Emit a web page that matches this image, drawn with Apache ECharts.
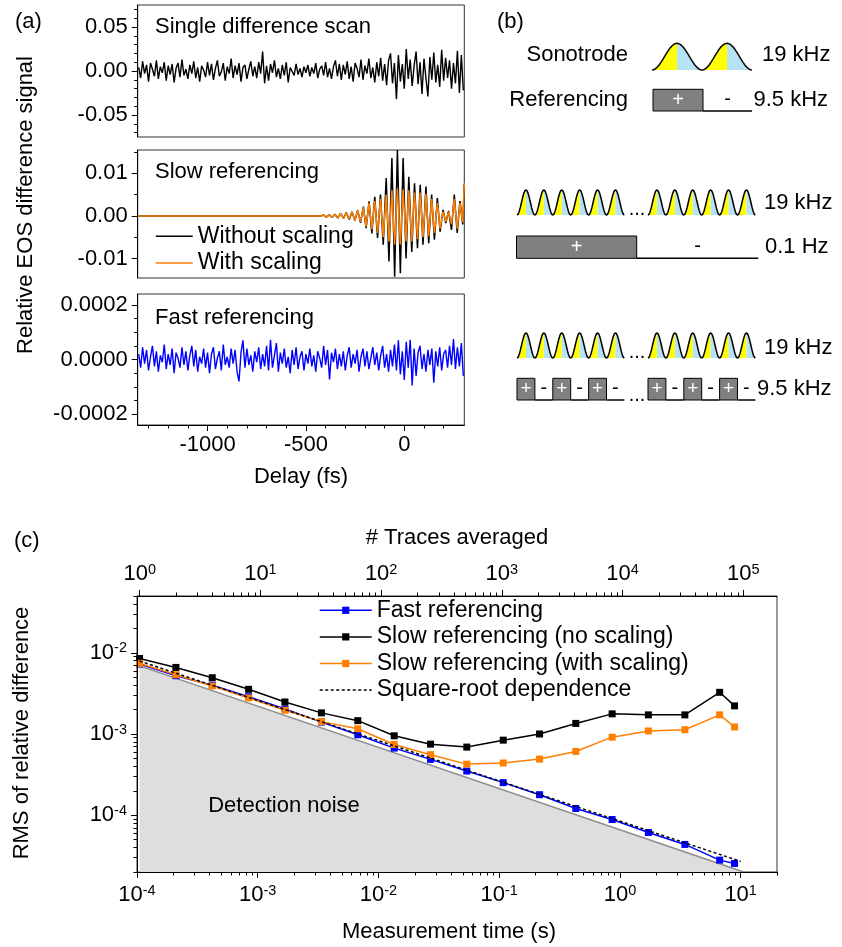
<!DOCTYPE html>
<html>
<head>
<meta charset="utf-8">
<title>EOS referencing and averaging noise</title>
<script src="https://cdn.jsdelivr.net/npm/echarts@6.0.0/dist/echarts.min.js"></script>
<style>
  html, body { margin: 0; padding: 0; background: #fff; }
  #chart { width: 842px; height: 947px; }
</style>
</head>
<body>
<div id="chart"></div>
<script>
const FONT = '"Liberation Sans", Arial, Helvetica, sans-serif';

// ---------- (a) EOS difference traces ----------
// single scan and fast referencing traces are sampled every 10 fs starting at -1350 fs
const traceDelayStart = -1350;
const traceDelayStep = 10;

// single difference scan, units of 1e-3
const singleScanMilli = [
  4, -8, 11, -3, 7, -12, 9, 2, -6, 12, -9, 5, -2, 10, -11, 6, -4, 8, -13, 3, 9, -7, 13, -5, 2, -9,
  7, -3, 11, -8, 4, -12, 6, 1, -7, 10, -5, 8, -10, 3, 12, -6, -1, 9, -11, 5, -3, 14, -8, 6, -4, 9,
  -12, 4, 7, -9, 2, 11, -6, 5, -8, 10, -3, 22, -14, 6, -11, 8, -2, 12, -7, 3, -9, 7, -5, 10, -13, 4,
  6, -5, 8, -4, 3, -7, 5, -2, 7, -6, 4, -3, 9, -8, 2, 6, -5, 10, -7, 3, -9, 5, 12, -6, 8, -10,
  7, -4, 11, -9, 5, -12, 9, 3, -7, 13, -10, 6, -3, 14, -8, 4, -13, 10, -6, 15, -11, 8, -16, 12, 20, -14,
  9, -32, 18, -12, 8, -20, 25, -9, 13, -17, 6, 22, -15, 10, -26, 14, -8, -29, 16, -10, 21, -13, 7, -18, 24, -11,
  15, -8, 12, -20, 9, -14, 23, -25, 18, -22
];

// fast referencing, units of 1e-6
const fastTraceMicro = [
  20, -30, 45, -15, 35, -40, 10, 50, -25, 30, -45, 15, -10, 55, -35, 20, -20, 40, -50, 25, 5, -30, 45, -20, 30, -40,
  15, 50, -25, 35, -45, 10, -15, 40, -30, 25, -50, 20, 45, -35, 5, 30, -40, 55, -20, 10, -30, 40, -15, 35, -45, -80,
  25, 70, -30, 40, -20, 15, -45, 30, -10, 45, -35, 20, -25, 50, -40, 72, -30, 15, 60, -45, 25, -15, 40, -30, 10, -50,
  35, -20, 45, -35, 10, 30, -40, 20, -15, 40, -25, 15, -45, 30, 5, -30, 50, -20, 35, -73, 25, -10, 40, -35, 20, -25,
  30, -40, 15, 45, -30, 20, -15, 35, -45, 10, 40, -25, 30, -35, 5, 45, -20, 25, -40, 15, 50, -30, 20, -45, 35, -25,
  55, -40, 70, -55, 30, -75, 65, -30, 72, -95, 40, -60, 25, 50, -35, 20, -45, 35, -20, 40, -85, 30, -25, 45, -40, 20,
  35, -30, 50, -20, 75, -35, 45, -25, 60, -60
];

// slow referencing: delays (fs) of the field extrema, values in units of 1e-3
const slowDelays = [
  -1355, -425,
  -410, -396, -381, -367, -353, -338, -324, -309, -295, -280, -266, -251, -237, -222,
  -208, -194, -179, -165, -150, -136, -121, -107, -92, -78, -63, -49, -35, -20, -6,
  9, 23, 38, 52, 67, 81, 95, 110, 124, 139, 153, 168, 182, 197, 211, 225, 240, 254, 269, 283, 297,
  305
];
const slowRawMilli = [
  0, 0,
  0.2, -0.3, 0.3, -0.4, 0.4, -0.5, 0.6, -0.6, 0.8, -0.9, 1.0, -1.1, 1.3, -1.6,
  2.2, -2.9, 3.4, -4.1, 4.5, -5.2, 5.0, -6.8, 8.9, -10.7, 13.6, -14.3, 15.5, -13.5, 13.6,
  -10.0, 9.2, -8.5, 7.7, -7.6, 7.3, -6.8, 6.9, -6.4, 5.0, -5.6, 4.2, -3.7, 1.4, -1.7, 1.2, -3.3, 5.0, -4.0, 3.5, -2.0,
  7.5
];
const slowScaledMilli = [
  0, 0,
  0.2, -0.3, 0.3, -0.4, 0.4, -0.5, 0.6, -0.6, 0.7, -0.8, 0.9, -1.0, 1.2, -1.4,
  2.0, -2.5, 3.0, -3.1, 3.5, -4.0, 4.0, -5.0, 5.0, -6.0, 6.0, -6.8, 6.5, -6.8, 6.2,
  -6.0, 6.0, -6.0, 5.5, -5.5, 5.5, -5.0, 5.2, -4.8, 4.0, -4.0, 3.0, -3.0, 1.0, -1.3, 1.0, -2.0, 4.0, -3.0, 3.0, -1.5,
  7.7
];

const delayRange = [-1355, 305];
const delayTicks = [-1000, -500, 0];
const delayMinorTicks = [-1300, -1200, -1100, -900, -800, -700, -600, -400, -300, -200, -100, 100, 200];
const scanRange = [-0.075, 0.075];
const scanTicks = [-0.05, 0, 0.05];
const scanMinorTicks = [-0.07, -0.06, -0.04, -0.03, -0.02, -0.01, 0.01, 0.02, 0.03, 0.04, 0.06, 0.07];
const slowRange = [-0.0146, 0.0155];
const slowTicks = [-0.01, 0, 0.01];
const slowMinorTicks = [-0.005, 0.005, 0.015];
const fastRange = [-0.00024, 0.00024];
const fastTicks = [-0.0002, 0, 0.0002];
const fastMinorTicks = [-0.00015, -0.0001, -0.00005, 0.00005, 0.0001, 0.00015];

// ---------- (c) RMS of relative difference vs measurement time ----------
const measTime = [1.05e-4, 2.1e-4, 4.2e-4, 8.4e-4, 1.68e-3, 3.37e-3, 6.74e-3, 1.35e-2, 2.7e-2,
  5.39e-2, 0.108, 0.216, 0.431, 0.862, 1.72, 3.45, 6.7, 8.9];
const rmsFast = [7.26e-3, 5.22e-3, 3.99e-3, 2.88e-3, 2.04e-3, 1.40e-3, 9.77e-4, 6.70e-4, 4.87e-4,
  3.50e-4, 2.52e-4, 1.79e-4, 1.21e-4, 8.85e-5, 6.13e-5, 4.37e-5, 2.80e-5, 2.55e-5];
const rmsSlowRaw = [8.51e-3, 6.60e-3, 4.93e-3, 3.55e-3, 2.48e-3, 1.82e-3, 1.46e-3, 9.5e-4, 7.5e-4,
  6.9e-4, 8.4e-4, 1.0e-3, 1.35e-3, 1.77e-3, 1.72e-3, 1.72e-3, 3.26e-3, 2.22e-3];
const rmsSlowScaled = [7.40e-3, 5.37e-3, 3.90e-3, 2.78e-3, 1.96e-3, 1.42e-3, 1.16e-3, 7.43e-4, 5.56e-4,
  4.26e-4, 4.40e-4, 4.91e-4, 6.10e-4, 9.14e-4, 1.09e-3, 1.13e-3, 1.72e-3, 1.22e-3];
const sqrtLineTime = [1.05e-4, 10];
const sqrtLineRms = [7.9e-3, 2.7e-5];
const noiseFloorTime = [1.05e-4, 10.6];
const noiseFloorRms = [6.9e-3, 2.0e-5];

const timeRange = [1e-4, 20];
const rmsRange = [2e-5, 5e-2];
const timeDecades = [1e-4, 1e-3, 1e-2, 1e-1, 1, 10];
const traceDecades = [1, 10, 100, 1000, 10000, 100000];
const rmsDecades = [1e-4, 1e-3, 1e-2];
const traceRate = 9500; // averaged traces per second of measurement

// ---------- helpers ----------
function logMinorTicks(lo, hi) {
  const out = [];
  for (let e = Math.floor(Math.log10(lo)); e <= Math.ceil(Math.log10(hi)); e++) {
    for (let m = 2; m <= 9; m++) {
      const v = m * Math.pow(10, e);
      if (v >= lo * 0.999 && v <= hi * 1.001) out.push(v);
    }
  }
  return out;
}

const powerRich = {
  b: { fontSize: 22, lineHeight: 24, fontFamily: FONT, color: '#000' },
  s: { fontSize: 14.5, lineHeight: 14, fontFamily: FONT, color: '#000', verticalAlign: 'top' }
};
const powerLabel = v => '{b|10}{s|' + Math.round(Math.log10(v)) + '}';

function axis(o) {
  const a = {
    type: o.type || 'value',
    gridIndex: o.grid,
    position: o.position,
    min: o.min,
    max: o.max,
    z: 5,
    axisLine: { show: !o.minor, onZero: false, lineStyle: { color: '#000', width: 1 } },
    axisTick: { show: true, inside: false, length: o.minor ? 3.5 : 6, customValues: o.ticks,
      lineStyle: { color: '#000', width: 1 } },
    axisLabel: { show: !!o.labels },
    splitLine: { show: false },
    minorTick: { show: false },
    minorSplitLine: { show: false },
    axisPointer: { show: false }
  };
  if (o.labels) {
    Object.assign(a.axisLabel, { customValues: o.labels, margin: o.margin, color: '#000',
      fontSize: 22, fontFamily: FONT });
    if (o.formatter) a.axisLabel.formatter = o.formatter;
    if (o.rich) a.axisLabel.rich = o.rich;
  }
  if (a.type === 'log') a.logBase = 10;
  return a;
}

function txt(x, y, text, o) {
  o = o || {};
  const align = o.align || 'left';
  const va = o.va || 'middle';
  return {
    type: 'text', x: x, y: y, rotation: o.rotation || 0, silent: true, z: 10,
    style: { text: text, font: (o.size || 22) + 'px ' + FONT, fill: o.color || '#000',
      align: align, verticalAlign: va, textAlign: align, textVerticalAlign: va }
  };
}

// ---------- (b) timing schematic ----------
const SONO_YELLOW = '#ffff00';
const SONO_BLUE = '#b6e2f5';
const REF_GRAY = '#808080';

function sonotrodeBumps(x0, n, period, base, h) {
  const els = [];
  const outline = [];
  const steps = 14;
  const shape = u => base - h * Math.pow(Math.sin(Math.PI * u), 2);
  for (let b = 0; b < n; b++) {
    const xa = x0 + b * period;
    const rise = [], fall = [];
    for (let j = 0; j <= steps; j++) {
      const u = 0.5 * j / steps;
      rise.push([xa + u * period, shape(u)]);
      fall.push([xa + (u + 0.5) * period, shape(u + 0.5)]);
    }
    els.push({ type: 'polygon', silent: true, z: 8,
      shape: { points: rise.concat([[xa + period / 2, base], [xa, base]]) },
      style: { fill: SONO_YELLOW, stroke: null } });
    els.push({ type: 'polygon', silent: true, z: 8,
      shape: { points: fall.concat([[xa + period, base], [xa + period / 2, base]]) },
      style: { fill: SONO_BLUE, stroke: null } });
    outline.push.apply(outline, rise.concat(fall.slice(1)));
  }
  els.push({ type: 'polyline', silent: true, z: 9, shape: { points: outline },
    style: { stroke: '#000', lineWidth: 1.5, fill: null } });
  return els;
}

function refBox(x, y, w, h, plusSize) {
  return [
    { type: 'rect', silent: true, z: 8, shape: { x: x, y: y, width: w, height: h },
      style: { fill: REF_GRAY, stroke: '#000', lineWidth: 1 } },
    txt(x + w / 2, y + h / 2, '+', { align: 'center', size: plusSize, color: '#fff' })
  ];
}
function lowLine(x1, x2, y, minusSize, minusY) {
  return [
    { type: 'line', silent: true, z: 8, shape: { x1: x1, y1: y, x2: x2, y2: y },
      style: { stroke: '#000', lineWidth: 1.5 } },
    txt((x1 + x2) / 2, minusY, '-', { align: 'center', size: minusSize })
  ];
}

function schematic() {
  let els = [];
  // single-cycle view
  els.push(txt(628, 55, 'Sonotrode', { align: 'right' }));
  els = els.concat(sonotrodeBumps(652, 2, 50, 70, 26.7));
  els.push(txt(762, 55, '19 kHz'));
  els.push(txt(628, 100, 'Referencing', { align: 'right' }));
  els = els.concat(refBox(653, 89.3, 50, 21.7, 20));
  els = els.concat(lowLine(703, 752, 111, 20, 99));
  els.push(txt(753.5, 100, '9.5 kHz'));

  // slow referencing
  els = els.concat(sonotrodeBumps(517, 6, 17.9, 215, 25));
  els.push(txt(637, 219, '...', { align: 'center', va: 'bottom', size: 20 }));
  els = els.concat(sonotrodeBumps(648, 6, 17.9, 215, 25));
  els.push(txt(764, 203, '19 kHz'));
  els = els.concat(refBox(516.5, 236, 120.2, 22.3, 20));
  els = els.concat(lowLine(636.7, 758.3, 258.3, 20, 246));
  els.push(txt(765, 247, '0.1 Hz'));

  // fast referencing
  els = els.concat(sonotrodeBumps(517, 6, 17.9, 358, 25));
  els.push(txt(637, 362, '...', { align: 'center', va: 'bottom', size: 20 }));
  els = els.concat(sonotrodeBumps(648, 6, 17.9, 358, 25));
  els.push(txt(764, 348, '19 kHz'));
  [517, 648].forEach(g => {
    for (let p = 0; p < 3; p++) {
      const bx = g + p * 35.8;
      els = els.concat(refBox(bx, 378.3, 17.9, 21.7, 19));
      els = els.concat(lowLine(bx + 17.9, bx + 35.8, 400, 20, 388));
    }
  });
  els.push(txt(637, 405, '...', { align: 'center', va: 'bottom', size: 20 }));
  els.push(txt(757, 389, '9.5 kHz'));
  return els;
}

// ---------- series data ----------
const singleScanData = singleScanMilli.map((v, i) => [traceDelayStart + i * traceDelayStep, v / 1000]);
const fastTraceData = fastTraceMicro.map((v, i) => [traceDelayStart + i * traceDelayStep, v / 1e6]);
const slowRawData = slowDelays.map((t, i) => [t, slowRawMilli[i] / 1000]);
const slowScaledData = slowDelays.map((t, i) => [t, slowScaledMilli[i] / 1000]);
const pairs = (xs, ys) => xs.map((x, i) => [x, ys[i]]);

const gridBase = { show: true, borderColor: '#333', borderWidth: 1, backgroundColor: 'transparent',
  containLabel: false, outerBoundsMode: 'none' };

const markerSeries = (name, color, ys) => ({
  name: name, type: 'line', xAxisIndex: 4, yAxisIndex: 6, data: pairs(measTime, ys),
  symbol: 'rect', symbolSize: 7, showSymbol: true, showAllSymbol: true,
  lineStyle: { color: color, width: 1.5 }, itemStyle: { color: color, borderWidth: 0 },
  emphasis: { disabled: true }, z: 3
});

const legendText = { fontSize: 23, fontFamily: FONT, color: '#000', lineHeight: 26.6 };

const option = {
  animation: false,
  backgroundColor: '#fff',
  textStyle: { fontFamily: FONT },
  grid: [
    Object.assign({ left: 137.7, top: 5, width: 326.6, height: 132 }, gridBase),
    Object.assign({ left: 137.7, top: 150, width: 326.6, height: 128 }, gridBase),
    Object.assign({ left: 137.7, top: 294, width: 326.6, height: 131 }, gridBase),
    Object.assign({ left: 137, top: 596, width: 640, height: 276 }, gridBase)
  ],
  xAxis: [
    { type: 'value', gridIndex: 0, min: delayRange[0], max: delayRange[1], show: false },
    { type: 'value', gridIndex: 1, min: delayRange[0], max: delayRange[1], show: false },
    axis({ grid: 2, position: 'bottom', min: delayRange[0], max: delayRange[1], ticks: delayTicks,
      labels: delayTicks, margin: 9, formatter: v => String(v) }),
    axis({ grid: 2, position: 'bottom', min: delayRange[0], max: delayRange[1], ticks: delayMinorTicks, minor: true }),
    axis({ grid: 3, type: 'log', position: 'bottom', min: timeRange[0], max: timeRange[1],
      ticks: timeDecades, labels: timeDecades, margin: 11, formatter: powerLabel, rich: powerRich }),
    axis({ grid: 3, type: 'log', position: 'bottom', min: timeRange[0], max: timeRange[1],
      ticks: logMinorTicks(timeRange[0], timeRange[1]), minor: true }),
    axis({ grid: 3, type: 'log', position: 'top', min: timeRange[0] * traceRate, max: timeRange[1] * traceRate,
      ticks: traceDecades, labels: traceDecades, margin: 10, formatter: powerLabel, rich: powerRich }),
    axis({ grid: 3, type: 'log', position: 'top', min: timeRange[0] * traceRate, max: timeRange[1] * traceRate,
      ticks: logMinorTicks(timeRange[0] * traceRate, timeRange[1] * traceRate), minor: true })
  ],
  yAxis: [
    axis({ grid: 0, position: 'left', min: scanRange[0], max: scanRange[1], ticks: scanTicks,
      labels: scanTicks, margin: 10, formatter: v => v.toFixed(2) }),
    axis({ grid: 0, position: 'left', min: scanRange[0], max: scanRange[1], ticks: scanMinorTicks, minor: true }),
    axis({ grid: 1, position: 'left', min: slowRange[0], max: slowRange[1], ticks: slowTicks,
      labels: slowTicks, margin: 10, formatter: v => v.toFixed(2) }),
    axis({ grid: 1, position: 'left', min: slowRange[0], max: slowRange[1], ticks: slowMinorTicks, minor: true }),
    axis({ grid: 2, position: 'left', min: fastRange[0], max: fastRange[1], ticks: fastTicks,
      labels: fastTicks, margin: 10, formatter: v => v.toFixed(4) }),
    axis({ grid: 2, position: 'left', min: fastRange[0], max: fastRange[1], ticks: fastMinorTicks, minor: true }),
    axis({ grid: 3, type: 'log', position: 'left', min: rmsRange[0], max: rmsRange[1], ticks: rmsDecades,
      labels: rmsDecades, margin: 10, formatter: powerLabel, rich: powerRich }),
    axis({ grid: 3, type: 'log', position: 'left', min: rmsRange[0], max: rmsRange[1],
      ticks: logMinorTicks(rmsRange[0], rmsRange[1]), minor: true })
  ],
  legend: [
    {
      orient: 'vertical', left: 155, top: 223, padding: 0, itemGap: 0, itemWidth: 37, itemHeight: 9,
      selectedMode: false,
      textStyle: legendText,
      lineStyle: { width: 'inherit' },
      data: [
        { name: 'Without scaling', itemStyle: { opacity: 0 } },
        { name: 'With scaling', itemStyle: { opacity: 0 } }
      ]
    },
    {
      orient: 'vertical', left: 319, top: 597, padding: 0, itemGap: 0, itemWidth: 52, itemHeight: 9,
      selectedMode: false,
      textStyle: legendText,
      lineStyle: { width: 'inherit' },
      data: [
        'Fast referencing',
        'Slow referencing (no scaling)',
        'Slow referencing (with scaling)',
        { name: 'Square-root dependence', itemStyle: { opacity: 0 } }
      ]
    }
  ],
  series: [
    { name: 'Single difference scan', type: 'line', xAxisIndex: 0, yAxisIndex: 0, data: singleScanData,
      symbol: 'none', lineStyle: { color: '#000', width: 1.4 }, itemStyle: { color: '#000' } },
    { name: 'Without scaling', type: 'line', xAxisIndex: 1, yAxisIndex: 2, data: slowRawData,
      symbol: 'none', lineStyle: { color: '#000', width: 1.5 }, itemStyle: { color: '#000' } },
    { name: 'With scaling', type: 'line', xAxisIndex: 1, yAxisIndex: 2, data: slowScaledData,
      symbol: 'none', lineStyle: { color: '#ff8000', width: 1.5 }, itemStyle: { color: '#ff8000' } },
    { name: 'Fast referencing trace', type: 'line', xAxisIndex: 2, yAxisIndex: 4, data: fastTraceData,
      symbol: 'none', lineStyle: { color: '#0000ff', width: 1.4 }, itemStyle: { color: '#0000ff' } },

    { name: 'Detection noise', type: 'line', xAxisIndex: 4, yAxisIndex: 6,
      data: pairs(noiseFloorTime, noiseFloorRms), symbol: 'none', z: 1,
      lineStyle: { color: '#8c8c8c', width: 1.5 }, itemStyle: { color: '#8c8c8c' },
      areaStyle: { color: '#dedede', opacity: 1, origin: 'start' } },
    markerSeries('Fast referencing', '#0000ff', rmsFast),
    markerSeries('Slow referencing (no scaling)', '#000000', rmsSlowRaw),
    markerSeries('Slow referencing (with scaling)', '#ff8000', rmsSlowScaled),
    { name: 'Square-root dependence', type: 'line', xAxisIndex: 4, yAxisIndex: 6,
      data: pairs(sqrtLineTime, sqrtLineRms), symbol: 'none', z: 4,
      lineStyle: { color: '#000', width: 1.5, type: [3, 2.5] }, itemStyle: { color: '#000' } }
  ],
  graphic: [
    txt(15, 22, '(a)'),
    txt(497, 22, '(b)'),
    txt(14, 541, '(c)'),
    txt(155, 27, 'Single difference scan'),
    txt(155, 172, 'Slow referencing'),
    txt(155, 318, 'Fast referencing'),
    txt(26, 205, 'Relative EOS difference signal', { align: 'center', rotation: Math.PI / 2 }),
    txt(301, 477, 'Delay (fs)', { align: 'center' }),
    txt(457, 538, '# Traces averaged', { align: 'center' }),
    txt(449, 932, 'Measurement time (s)', { align: 'center' }),
    txt(22, 733, 'RMS of relative difference', { align: 'center', rotation: Math.PI / 2 }),
    txt(284, 806, 'Detection noise', { align: 'center' })
  ].concat(schematic())
};

const chart = echarts.init(document.getElementById('chart'), null, { renderer: 'canvas', width: 842, height: 947 });
chart.setOption(option);
</script>
</body>
</html>
